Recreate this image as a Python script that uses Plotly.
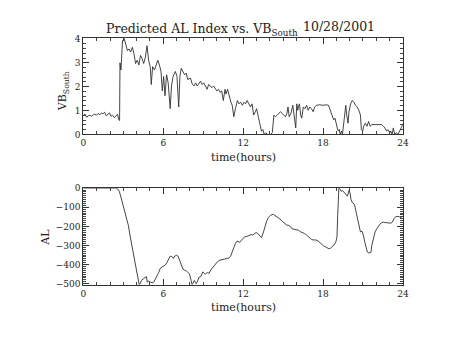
import plotly.graph_objects as go

# ---------------- data ----------------
vb_time = [0.00, 0.12, 0.25, 0.37, 0.50, 0.62, 0.74, 0.86, 0.98, 1.10, 1.23, 1.35, 1.47, 1.60,
           1.72, 1.84, 1.96, 2.08, 2.20, 2.33, 2.45, 2.57, 2.65, 2.72, 2.75, 2.82, 2.94, 3.06,
           3.31, 3.43, 3.55, 3.68, 3.80, 3.92, 4.04, 4.17, 4.29, 4.41, 4.53, 4.66, 4.78, 4.90,
           5.02, 5.10, 5.20, 5.34, 5.47, 5.59, 5.71, 5.83, 5.93, 6.03, 6.13, 6.25, 6.37, 6.52,
           6.62, 6.74, 6.91, 7.03, 7.16, 7.25, 7.35, 7.48, 7.60, 7.72, 7.84, 8.04, 8.19, 8.31,
           8.43, 8.55, 8.68, 8.80, 8.92, 9.04, 9.17, 9.29, 9.41, 9.53, 9.66, 9.78, 9.90, 10.02,
           10.15, 10.27, 10.39, 10.51, 10.64, 10.71, 10.83, 10.93, 11.08, 11.18, 11.30, 11.42,
           11.57, 11.69, 11.81, 11.94, 12.06, 12.18, 12.30, 12.43, 12.55, 12.67, 12.79, 12.92,
           13.01, 13.14, 13.28, 13.38, 13.48, 13.58, 13.70, 13.82, 14.07, 14.19, 14.31, 14.43,
           14.56, 14.68, 14.80, 14.93, 15.05, 15.17, 15.29, 15.37, 15.46, 15.59, 15.73, 15.86,
           15.95, 16.03, 16.10, 16.15, 16.23, 16.32, 16.40, 16.52, 16.64, 16.77, 16.89, 17.01,
           17.13, 17.26, 17.38, 17.50, 17.75, 17.99, 18.19, 18.28, 18.41, 18.53, 18.65, 18.73,
           18.80, 18.90, 18.97, 19.07, 19.14, 19.22, 19.29, 19.39, 19.46, 19.53, 19.63, 19.71,
           19.78, 19.88, 19.95, 20.07, 20.20, 20.32, 20.44, 20.56, 20.69, 20.81, 20.88, 20.98,
           21.05, 21.18, 21.30, 21.42, 21.54, 21.67, 21.91, 22.16, 22.28, 22.40, 22.53, 22.65,
           22.77, 22.89, 23.02, 23.09, 23.19, 23.28, 23.38, 23.51, 23.63, 23.75, 23.82, 23.87,
           23.99]
vb_south = [0.80, 0.85, 0.72, 0.78, 0.80, 0.76, 0.82, 0.85, 0.80, 0.88, 0.82, 0.90, 0.86, 0.93,
            0.78, 0.85, 0.90, 0.76, 0.80, 0.70, 0.78, 0.85, 0.62, 0.58, 3.00, 2.70, 3.92, 4.03,
            3.51, 3.58, 3.45, 3.65, 3.38, 2.97, 3.11, 2.91, 3.31, 3.18, 2.97, 3.24, 3.72, 3.11,
            2.84, 2.09, 2.84, 2.70, 2.91, 3.11, 2.91, 2.64, 1.82, 2.43, 1.62, 2.50, 2.16, 1.08,
            2.03, 2.43, 2.64, 2.43, 1.15, 2.43, 2.77, 2.64, 2.50, 2.57, 2.30, 2.36, 2.09, 2.03,
            2.16, 2.03, 2.16, 2.23, 2.09, 2.16, 2.03, 1.89, 2.09, 2.03, 1.96, 2.03, 1.89, 1.82,
            1.89, 1.76, 1.82, 1.42, 1.89, 1.69, 1.89, 1.62, 1.35, 1.22, 0.74, 1.08, 1.42, 1.28,
            1.35, 1.22, 1.35, 1.28, 1.42, 1.28, 1.15, 1.28, 0.81, 0.95, 1.08, 0.74, 0.40, 0.13,
            0.20, 0.00, 0.07, 0.00, 0.00, 0.07, 0.81, 0.74, 0.81, 0.88, 0.95, 0.88, 0.81, 0.74,
            0.88, 1.15, 0.74, 0.88, 1.22, 0.61, 0.27, 1.28, 1.01, 1.15, 1.28, 0.81, 0.68, 1.15,
            1.08, 1.22, 1.01, 1.15, 1.08, 0.95, 1.15, 1.22, 1.24, 1.22, 1.24, 1.24, 1.22, 1.01,
            0.81, 0.74, 0.61, 0.68, 0.47, 0.27, 0.14, 0.20, 0.00, 0.14, 0.00, 0.41, 1.01, 1.22,
            0.81, 0.47, 0.95, 1.28, 1.42, 1.35, 1.22, 1.15, 1.01, 0.81, 0.20, 0.14, 0.34, 0.47,
            0.34, 0.54, 0.34, 0.41, 0.41, 0.41, 0.41, 0.41, 0.34, 0.27, 0.14, 0.20, 0.07, 0.14,
            0.00, 0.27, 0.00, 0.07, 0.00, 0.14, 0.20, 0.27, 0.41, 0.74, 0.74]

al_time = [0.00, 2.45, 2.60, 2.70, 2.77, 2.89, 3.01, 3.14, 3.26, 3.38, 3.50, 3.63, 3.75, 3.87,
           4.00, 4.12, 4.19, 4.29, 4.36, 4.49, 4.61, 4.73, 4.80, 4.90, 5.05, 5.17, 5.29, 5.42,
           5.54, 5.66, 5.78, 5.91, 6.03, 6.15, 6.27, 6.40, 6.52, 6.64, 6.76, 6.86, 6.99, 7.11,
           7.23, 7.35, 7.48, 7.60, 7.72, 7.84, 7.97, 8.09, 8.16, 8.24, 8.33, 8.41, 8.48, 8.58,
           8.68, 8.82, 8.97, 9.07, 9.17, 9.31, 9.44, 9.56, 9.71, 9.83, 9.95, 10.07, 10.20, 10.32,
           10.44, 10.61, 10.78, 10.93, 11.05, 11.18, 11.30, 11.42, 11.54, 11.74, 11.87, 11.99,
           12.11, 12.23, 12.36, 12.48, 12.60, 12.72, 12.85, 12.97, 13.09, 13.21, 13.38, 13.53,
           13.65, 13.78, 13.90, 14.07, 14.27, 14.44, 14.56, 14.76, 14.93, 15.10, 15.25, 15.42,
           15.54, 15.66, 15.79, 15.98, 16.15, 16.33, 16.47, 16.60, 16.77, 16.96, 17.13, 17.26,
           17.45, 17.62, 17.75, 17.87, 18.04, 18.19, 18.31, 18.43, 18.56, 18.68, 18.83, 18.97,
           19.05, 19.10, 19.14, 19.19, 19.27, 19.37, 19.46, 19.59, 19.71, 19.83, 19.95, 20.03,
           20.10, 20.20, 20.32, 20.39, 20.49, 20.59, 20.69, 20.81, 20.93, 21.03, 21.13, 21.23,
           21.33, 21.42, 21.52, 21.60, 21.67, 21.77, 21.91, 22.04, 22.16, 22.28, 22.40, 22.53,
           22.65, 22.77, 22.89, 23.09, 23.21, 23.34, 23.48, 23.63, 23.75, 23.87, 23.97]
al_index = [0, 0, -5, -17, -34, -68, -102, -136, -170, -195, -246, -297, -347, -398,
            -449, -483, -505, -497, -483, -475, -470, -463, -492, -486, -492, -495, -492, -475,
            -458, -441, -419, -412, -408, -402, -390, -368, -356, -358, -368, -356, -351, -356,
            -381, -407, -424, -429, -432, -441, -449, -483, -505, -497, -483, -492, -500, -486,
            -466, -463, -438, -446, -449, -442, -446, -429, -415, -407, -393, -385, -378, -375,
            -375, -371, -368, -365, -358, -328, -311, -290, -277, -283, -271, -263, -254, -254,
            -249, -246, -242, -246, -237, -232, -237, -246, -259, -229, -195, -170, -153, -141,
            -137, -144, -153, -161, -173, -181, -192, -195, -200, -212, -215, -217, -220, -229,
            -232, -237, -246, -259, -268, -271, -271, -276, -285, -293, -302, -307, -314, -317,
            -314, -307, -297, -280, -254, -144, -42, 0, -5, -17, -12, -22, -29, -42, -12, -25,
            -59, -76, -81, -93, -127, -161, -195, -229, -225, -246, -280, -314, -334, -339,
            -339, -336, -297, -263, -229, -212, -198, -188, -181, -178, -180, -181, -183, -183,
            -178, -158, -149, -147, -151, -158, -160]

x_ticks = [0, 6, 12, 18, 24]

# ---------------- figure ----------------
W, H = 454, 341
def px(x):
    return x / W
def py(y):
    return (H - y) / H

FONT = "DejaVu Serif"
LINE = dict(color="#303030", width=0.9)
fig = go.Figure()
fig.add_trace(go.Scatter(x=vb_time, y=vb_south, mode="lines", line=LINE,
                         xaxis="x", yaxis="y", showlegend=False))
fig.add_trace(go.Scatter(x=al_time, y=al_index, mode="lines", line=LINE,
                         xaxis="x2", yaxis="y2", showlegend=False))

axis_common = dict(showline=True, linecolor="#333", linewidth=1, mirror="ticks",
                   ticks="inside", tickcolor="#333", tickwidth=1, showgrid=False,
                   zeroline=False, tickfont=dict(family=FONT, size=9, color="#222"))
xdom = [px(82), px(408)]
fig.update_layout(
    width=W, height=H, margin=dict(l=0, r=0, t=0, b=0),
    paper_bgcolor="white", plot_bgcolor="white", showlegend=False,
    xaxis=dict(domain=xdom, range=[0, 24], tickvals=x_ticks, ticklen=6,
               minor=dict(dtick=1, ticks="inside", ticklen=3, tickcolor="#444", tickwidth=1),
               anchor="y", **axis_common),
    yaxis=dict(domain=[py(133.3), py(34.5)], range=[0, 4.02], dtick=1, ticklen=6,
               minor=dict(dtick=0.2, ticks="inside", ticklen=3, tickcolor="#444", tickwidth=1),
               anchor="x", **axis_common),
    xaxis2=dict(domain=xdom, range=[0, 24], tickvals=x_ticks, ticklen=6,
                minor=dict(dtick=1, ticks="inside", ticklen=3, tickcolor="#444", tickwidth=1),
                anchor="y2", **axis_common),
    yaxis2=dict(domain=[py(288.3), py(188.7)], range=[-506, 0], dtick=100, ticklen=6,
                minor=dict(dtick=10, ticks="inside", ticklen=3, tickcolor="#444", tickwidth=1),
                anchor="x2", **axis_common),
)

ann_font = dict(family=FONT, size=11, color="#222")
anns = [
    dict(text="Predicted AL Index vs. VB<sub>South</sub>", x=px(103), y=py(14),
         xanchor="left", yanchor="top", font=dict(family=FONT, size=12.5, color="#222")),
    dict(text="10/28/2001", x=px(343), y=py(22.5), xanchor="center", yanchor="middle",
         font=dict(family=FONT, size=12.5, color="#222")),
    dict(text="time(hours)", x=px(245), y=py(157.5), xanchor="center", yanchor="middle",
         font=ann_font),
    dict(text="time(hours)", x=px(245), y=py(312), xanchor="center", yanchor="middle",
         font=ann_font),
    dict(text="VB<sub>South</sub>", x=px(62), y=py(89), xanchor="center", yanchor="middle",
         textangle=-90, font=ann_font),
    dict(text="AL", x=px(43.5), y=py(239), xanchor="center", yanchor="middle",
         textangle=-90, font=ann_font),
]
for a in anns:
    fig.add_annotation(xref="paper", yref="paper", showarrow=False, **a)

fig.write_html("out.html")
